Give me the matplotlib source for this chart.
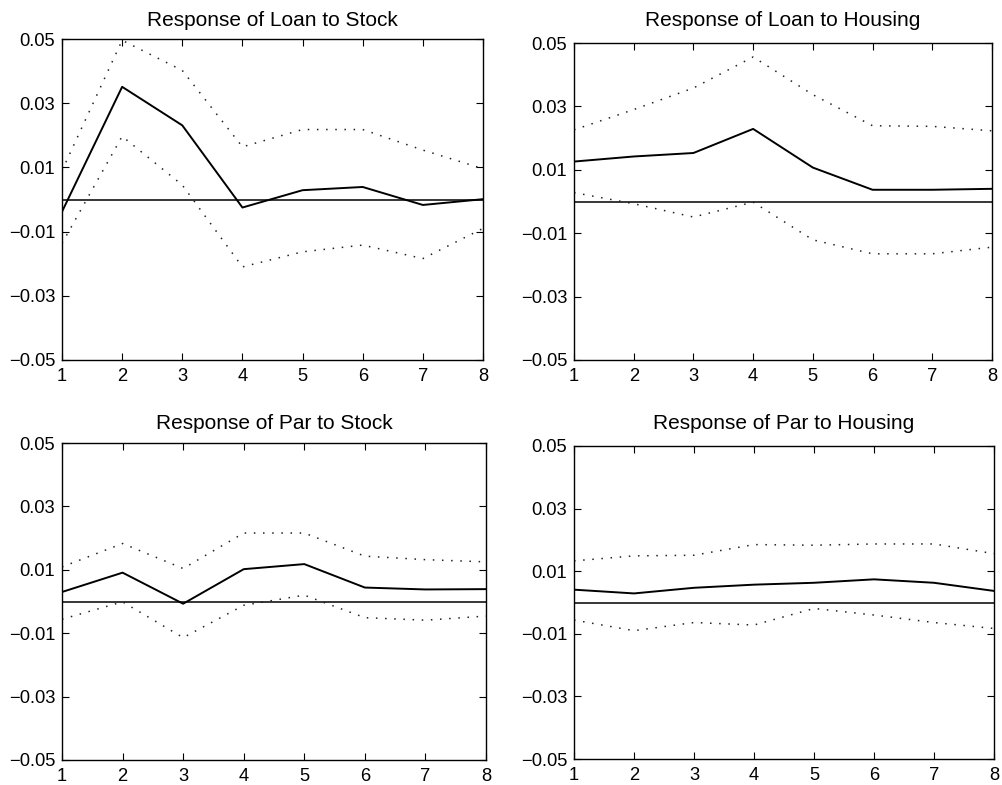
import matplotlib
matplotlib.use("Agg")
import matplotlib.pyplot as plt

plt.rcParams['font.family'] = ['Liberation Sans', 'DejaVu Sans']

periods = [1, 2, 3, 4, 5, 6, 7, 8]
yticks = [-0.05, -0.03, -0.01, 0.01, 0.03, 0.05]
ytick_labels = ['\u22120.05', '\u22120.03', '\u22120.01', '0.01', '0.03', '0.05']

titles = ["Response of Loan to Stock", "Response of Loan to Housing",
          "Response of Par to Stock", "Response of Par to Housing"]

loan_stock = [-0.0038, 0.0351, 0.0231, -0.0025, 0.0029, 0.0039, -0.0017, 0.0001]
loan_stock_up = [0.0090, 0.0496, 0.0402, 0.0164, 0.0218, 0.0218, 0.0154, 0.0096]
loan_stock_lo = [-0.0137, 0.0197, 0.0045, -0.0210, -0.0163, -0.0142, -0.0184, -0.0090]

loan_housing = [0.0126, 0.0142, 0.0153, 0.0229, 0.0107, 0.0037, 0.0037, 0.0040]
loan_housing_up = [0.0226, 0.0290, 0.0358, 0.0456, 0.0337, 0.0239, 0.0237, 0.0223]
loan_housing_lo = [0.0028, -0.0007, -0.0049, -0.0002, -0.0121, -0.0165, -0.0165, -0.0144]

par_stock = [0.0030, 0.0091, -0.0007, 0.0102, 0.0118, 0.0044, 0.0038, 0.0039]
par_stock_up = [0.0109, 0.0183, 0.0104, 0.0216, 0.0216, 0.0143, 0.0132, 0.0125]
par_stock_lo = [-0.0056, -0.0001, -0.0114, -0.0012, 0.0020, -0.0051, -0.0059, -0.0046]

par_housing = [0.0041, 0.0029, 0.0047, 0.0057, 0.0063, 0.0074, 0.0063, 0.0037]
par_housing_up = [0.0133, 0.0149, 0.0151, 0.0185, 0.0183, 0.0187, 0.0187, 0.0156]
par_housing_lo = [-0.0056, -0.0090, -0.0064, -0.0072, -0.0019, -0.0040, -0.0064, -0.0083]

series = [(loan_stock, loan_stock_up, loan_stock_lo),
          (loan_housing, loan_housing_up, loan_housing_lo),
          (par_stock, par_stock_up, par_stock_lo),
          (par_housing, par_housing_up, par_housing_lo)]

W, H = 1002, 785
fig = plt.figure(figsize=(W / 100, H / 100), dpi=100)

# pixel boxes: left, top, right, bottom
boxes = [(62, 39, 483, 360), (574, 43, 992, 360),
         (62, 443, 486, 760), (574, 446, 994, 759)]
title_pads = [9.6, 12.5, 10.3, 12.1]

for (l, t, r, b), title, tp, (mid, up, lo) in zip(boxes, titles, title_pads, series):
    ax = fig.add_axes([l / W, (H - b) / H, (r - l) / W, (b - t) / H])
    ax.plot(periods, [0] * len(periods), color='black', lw=1.1)
    ax.plot(periods, up, color='#222222', lw=1.1, linestyle=(0, (1, 5)))
    ax.plot(periods, lo, color='#222222', lw=1.1, linestyle=(0, (1, 5)))
    ax.plot(periods, mid, color='black', lw=1.4)
    ax.set_xlim(1, 8)
    ax.set_ylim(-0.05, 0.05)
    ax.set_xticks(periods)
    ax.set_xticklabels([str(p) for p in periods])
    ax.set_yticks(yticks)
    ax.set_yticklabels(ytick_labels)
    ax.tick_params(direction='in', top=True, right=True, labelsize=13.2,
                   length=5, width=0.8)
    ax.tick_params(axis='x', pad=6)
    ax.tick_params(axis='y', pad=5)
    for s in ax.spines.values():
        s.set_linewidth(1.0)
    ax.set_title(title, fontsize=15, pad=tp)

fig.savefig("out.png", dpi=100)
